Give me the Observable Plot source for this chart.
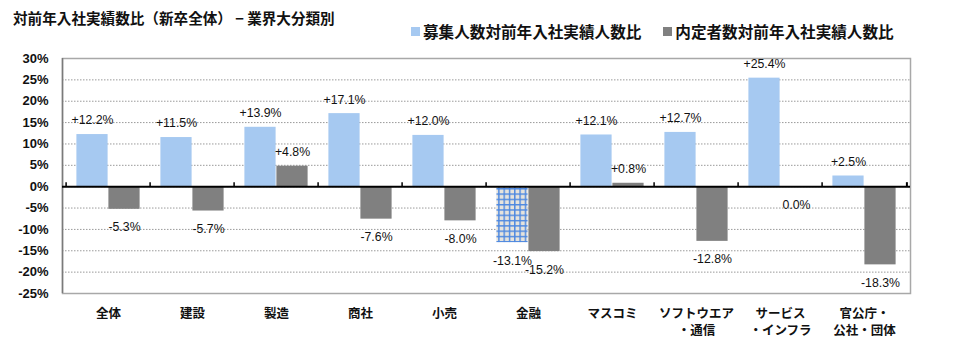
<!DOCTYPE html>
<html>
<head>
<meta charset="utf-8">
<script src="https://cdn.jsdelivr.net/npm/d3@7"></script>
<script src="https://cdn.jsdelivr.net/npm/@observablehq/plot@0.6"></script>
<style>
  body { margin: 0; background: #fff; font-family: "Noto Sans CJK JP", sans-serif; }
  #wrap { width: 960px; height: 364px; position: relative; overflow: hidden; }
  #header { position: relative; height: 45px; }
  #title { position: absolute; left: 13px; top: 7px; font-size: 14.6px; font-weight: bold; color: #111; white-space: nowrap; }
  #legend { position: absolute; left: 411px; top: 20px; font-size: 15.6px; font-weight: bold; color: #111; white-space: nowrap; display: flex; align-items: center; }
  .sw { display: inline-block; width: 9px; height: 9px; margin-right: 3px; }
  .item { display: flex; align-items: center; margin-right: 22px; }
</style>
</head>
<body>
<div id="wrap">
  <div id="header">
    <div id="title">対前年入社実績数比（新卒全体） − 業界大分類別</div>
    <div id="legend"></div>
  </div>
  <div id="chart"></div>
</div>
<script>
const categories = ["全体","建設","製造","商社","小売","金融","マスコミ","ソフトウエア\n・通信","サービス\n・インフラ","官公庁・\n公社・団体"];
const recruitRatio = [12.2, 11.5, 13.9, 17.1, 12.0, -13.1, 12.1, 12.7, 25.4, 2.5];
const offerRatio = [-5.3, -5.7, 4.8, -7.6, -8.0, -15.2, 0.8, -12.8, 0.0, -18.3];
const seriesNames = ["募集人数対前年入社実績人数比", "内定者数対前年入社実績人数比"];
const yTicks = [30, 25, 20, 15, 10, 5, 0, -5, -10, -15, -20, -25];

const colBlue = "#a6c9f1";
const colGray = "#808080";

// legend
const legend = document.getElementById("legend");
[[seriesNames[0], colBlue], [seriesNames[1], colGray]].forEach(([n, c]) => {
  const it = document.createElement("span");
  it.className = "item";
  it.innerHTML = `<span class="sw" style="background:${c}"></span>${n}`;
  legend.appendChild(it);
});

const blue = categories.map((c, i) => ({cat: c, v: recruitRatio[i]}));
const gray = categories.map((c, i) => ({cat: c, v: offerRatio[i]}));
const fmt = v => (v > 0 ? "+" : "") + v.toFixed(1) + "%";

const W = 960, H = 319, mL = 62, mR = 50;
const half = (W - mL - mR) / categories.length / 2;
const barW = 32;
const inOuter = half - barW;

const labelFont = {fontFamily: "'Liberation Sans', 'Noto Sans CJK JP', sans-serif", fontSize: 12.3, fill: "#111"};

const plot = Plot.plot({
  width: W, height: H,
  marginLeft: mL, marginRight: mR, marginTop: 13, marginBottom: 71,
  style: {fontFamily: "'Liberation Sans', 'Noto Sans CJK JP', sans-serif", background: "#fff"},
  x: {domain: categories, padding: 0, axis: null},
  y: {domain: [-25, 30], axis: null},
  marks: [
    Plot.ruleY(yTicks, {stroke: "#9a9a9a", strokeWidth: 1, strokeDasharray: "1.5,1.5"}),
    Plot.barY(blue.filter(d => d.v >= 0), {x: "cat", y: "v", fill: colBlue, insetLeft: inOuter, insetRight: half}),
    Plot.barY(blue.filter(d => d.v < 0), {x: "cat", y: "v", fill: "url(#finPattern)", insetLeft: inOuter, insetRight: half}),
    Plot.barY(gray, {x: "cat", y: "v", fill: colGray, insetLeft: half, insetRight: inOuter}),
    Plot.frame({stroke: "#a8a8a8", strokeWidth: 1.5}),
    Plot.ruleX([0], {frameAnchor: "left", x: null, stroke: "#7a7a7a", strokeWidth: 1.5, dx: -(W - mL - mR) / 2}),
    Plot.ruleY([0], {stroke: "#000", strokeWidth: 2}),
    Plot.ruleX(categories, {x: d => d, y1: () => 0, y2: () => 0, insetTop: -4, dx: -half, stroke: "#000", strokeWidth: 1.5}),
    Plot.ruleX(categories.slice(-1), {x: d => d, y1: () => 0, y2: () => 0, insetTop: -4, dx: half, stroke: "#000", strokeWidth: 2}),
    Plot.text(blue.filter(d => d.v > 0), {x: "cat", y: "v", text: d => fmt(d.v), dx: -half + inOuter + barW / 2, dy: -14, ...labelFont}),
    Plot.text(blue.filter(d => d.v <= 0), {x: "cat", y: "v", text: d => fmt(d.v), dx: -half + inOuter + barW / 2, dy: 18, ...labelFont}),
    Plot.text(gray.filter(d => d.v > 0), {x: "cat", y: "v", text: d => fmt(d.v), dx: barW / 2, dy: -14, ...labelFont}),
    Plot.text(gray.filter(d => d.v <= 0), {x: "cat", y: "v", text: d => fmt(d.v), dx: barW / 2, dy: 18, ...labelFont}),
    Plot.axisY(yTicks, {label: null, tickSize: 0, tickPadding: 14, tickFormat: d => d + "%", fontSize: 13, fontWeight: "bold", fill: "#111"}),
    Plot.text(categories, {x: d => d, frameAnchor: "bottom", dy: 12, lineAnchor: "top", lineHeight: 1.38, fontFamily: "'Noto Sans CJK JP', sans-serif", fontSize: 12.5, fontWeight: "bold", fill: "#111"})
  ]
});

// pattern for negative recruit bar
const ns = "http://www.w3.org/2000/svg";
const defs = document.createElementNS(ns, "defs");
const pat = document.createElementNS(ns, "pattern");
pat.setAttribute("id", "finPattern");
pat.setAttribute("patternUnits", "userSpaceOnUse");
pat.setAttribute("width", "5.3");
pat.setAttribute("height", "5.3");
const bg = document.createElementNS(ns, "rect");
bg.setAttribute("width", "5.3"); bg.setAttribute("height", "5.3"); bg.setAttribute("fill", "#e6e3dc");
const l1 = document.createElementNS(ns, "rect");
l1.setAttribute("width", "1.4"); l1.setAttribute("height", "5.3"); l1.setAttribute("fill", "#4d88e0");
const l2 = document.createElementNS(ns, "rect");
l2.setAttribute("width", "5.3"); l2.setAttribute("height", "1.4"); l2.setAttribute("fill", "#4d88e0");
pat.appendChild(bg); pat.appendChild(l1); pat.appendChild(l2);
defs.appendChild(pat);
plot.insertBefore(defs, plot.firstChild);

document.getElementById("chart").appendChild(plot);
</script>
</body>
</html>
